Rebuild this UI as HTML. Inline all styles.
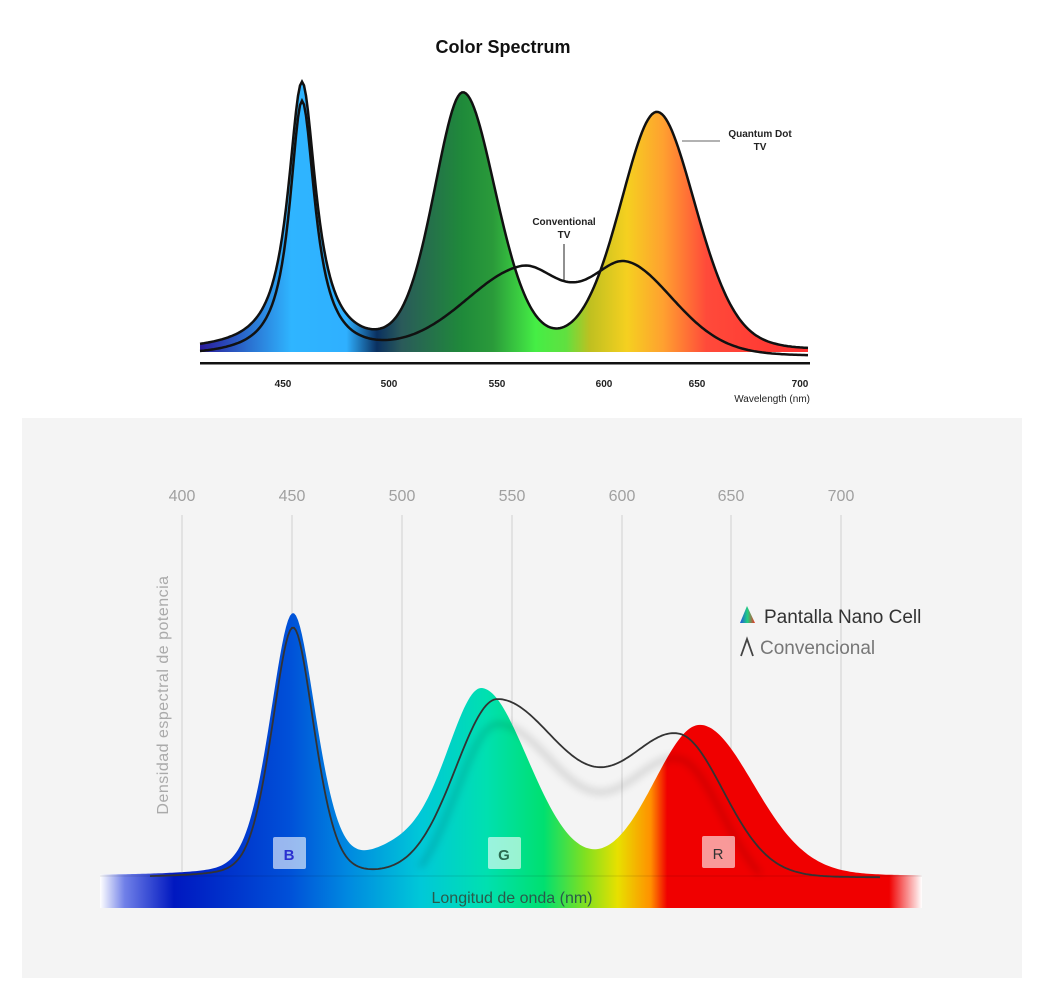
<!DOCTYPE html>
<html><head><meta charset="utf-8"><style>
html,body{margin:0;padding:0;background:#fff;width:1048px;height:1000px;overflow:hidden}
svg{display:block}
</style></head><body>
<svg id="s" width="1048" height="1000" viewBox="0 0 1048 1000" xmlns="http://www.w3.org/2000/svg" font-family="Liberation Sans, sans-serif">
<defs>
<linearGradient id="gt" x1="200" x2="810" y1="0" y2="0" gradientUnits="userSpaceOnUse">
<stop offset="0" stop-color="#2a1a9a"/>
<stop offset="0.08" stop-color="#2a70d0"/>
<stop offset="0.15" stop-color="#2fb5ff"/>
<stop offset="0.24" stop-color="#2fb0ff"/>
<stop offset="0.29" stop-color="#0a3060"/>
<stop offset="0.33" stop-color="#2a5a5a"/>
<stop offset="0.43" stop-color="#1f8a3a"/>
<stop offset="0.48" stop-color="#2a9a3a"/>
<stop offset="0.55" stop-color="#45ee45"/>
<stop offset="0.6" stop-color="#60e040"/>
<stop offset="0.64" stop-color="#c0c020"/>
<stop offset="0.7" stop-color="#f5d020"/>
<stop offset="0.76" stop-color="#ffa030"/>
<stop offset="0.83" stop-color="#ff4a3a"/>
<stop offset="1" stop-color="#ff3030"/>
</linearGradient>
<linearGradient id="gb" x1="100" x2="922" y1="0" y2="0" gradientUnits="userSpaceOnUse">
<stop offset="0" stop-color="#ffffff"/>
<stop offset="0.03" stop-color="#7080e8"/>
<stop offset="0.09" stop-color="#0018c0"/>
<stop offset="0.23" stop-color="#0050d8"/>
<stop offset="0.3" stop-color="#0088e0"/>
<stop offset="0.39" stop-color="#00c8d8"/>
<stop offset="0.47" stop-color="#00e0b0"/>
<stop offset="0.54" stop-color="#00e070"/>
<stop offset="0.59" stop-color="#80e020"/>
<stop offset="0.63" stop-color="#e8e000"/>
<stop offset="0.67" stop-color="#ff9000"/>
<stop offset="0.69" stop-color="#f00000"/>
<stop offset="0.96" stop-color="#f00000"/>
<stop offset="1" stop-color="#ffffff"/>
</linearGradient>
<linearGradient id="leg" x1="0" x2="1" y1="0" y2="0">
<stop offset="0" stop-color="#2050e0"/><stop offset="0.5" stop-color="#20d080"/><stop offset="1" stop-color="#f03020"/>
</linearGradient>
<filter id="sh" x="-10%" y="-10%" width="120%" height="140%"><feGaussianBlur stdDeviation="4"/></filter>
</defs>
<text x="503" y="53" text-anchor="middle" font-size="18" font-weight="bold" fill="#111">Color Spectrum</text>
<path id="qdfill" fill="url(#gt)"/>
<path id="qd" fill="none" stroke="#111" stroke-width="2.5"/>
<path id="cv" fill="none" stroke="#111" stroke-width="2.5"/>
<rect x="200" y="362" width="610" height="2.5" fill="#111"/>
<g font-size="10" font-weight="bold" fill="#222" text-anchor="middle">
<text x="283" y="387">450</text><text x="389" y="387">500</text><text x="497" y="387">550</text><text x="604" y="387">600</text><text x="697" y="387">650</text><text x="800" y="387">700</text>
</g>
<text x="810" y="402" text-anchor="end" font-size="10" fill="#222">Wavelength (nm)</text>
<text x="760" y="137" text-anchor="middle" font-size="10" font-weight="bold" fill="#222">Quantum Dot</text>
<text x="760" y="150" text-anchor="middle" font-size="10" font-weight="bold" fill="#222">TV</text>
<line x1="682" y1="141" x2="720" y2="141" stroke="#666" stroke-width="1"/>
<text x="564" y="225" text-anchor="middle" font-size="10" font-weight="bold" fill="#222">Conventional</text>
<text x="564" y="238" text-anchor="middle" font-size="10" font-weight="bold" fill="#222">TV</text>
<line x1="564" y1="244" x2="564" y2="280" stroke="#222" stroke-width="1"/>

<rect x="22" y="418" width="1000" height="560" fill="#f4f4f4"/>
<g stroke="#cfcfcf" stroke-width="1">
<line x1="182" y1="515" x2="182" y2="905"/><line x1="292" y1="515" x2="292" y2="905"/><line x1="402" y1="515" x2="402" y2="905"/><line x1="512" y1="515" x2="512" y2="905"/><line x1="622" y1="515" x2="622" y2="905"/><line x1="731" y1="515" x2="731" y2="905"/><line x1="841" y1="515" x2="841" y2="905"/>
</g>
<g font-size="16" fill="#a0a0a0" text-anchor="middle">
<text x="182" y="501">400</text><text x="292" y="501">450</text><text x="402" y="501">500</text><text x="512" y="501">550</text><text x="622" y="501">600</text><text x="731" y="501">650</text><text x="841" y="501">700</text>
</g>
<text transform="translate(168,695) rotate(-90)" text-anchor="middle" font-size="16" fill="#aaa" letter-spacing="0.5">Densidad espectral de potencia</text>
<path id="ncfill" fill="url(#gb)"/>
<rect x="100" y="875" width="822" height="33" fill="url(#gb)"/>
<line x1="100" y1="876" x2="922" y2="876" stroke="#000" stroke-opacity="0.12"/>
<path id="cvbs" fill="none" stroke="#000" stroke-opacity="0.2" stroke-width="4" filter="url(#sh)" transform="translate(0,25)"/>
<path id="cvb" fill="none" stroke="#333" stroke-width="1.8"/>
<rect x="273" y="837" width="33" height="32" rx="2" fill="#fff" fill-opacity="0.6"/>
<text x="289" y="860" text-anchor="middle" font-size="15" fill="#2a30d0" font-weight="bold">B</text>
<rect x="488" y="837" width="33" height="32" rx="2" fill="#fff" fill-opacity="0.6"/>
<text x="504" y="860" text-anchor="middle" font-size="15" fill="#2a6a50" font-weight="bold">G</text>
<rect x="702" y="836" width="33" height="32" rx="2" fill="#fff" fill-opacity="0.6"/>
<text x="718" y="859" text-anchor="middle" font-size="15" fill="#333">R</text>
<text x="512" y="903" text-anchor="middle" font-size="16" fill="#2a5a4a">Longitud de onda (nm)</text>
<polygon points="740,623 747,606 755,623" fill="url(#leg)"/>
<text x="764" y="623" font-size="19" fill="#333">Pantalla Nano Cell</text>
<polyline points="741,656 747,639 753,656" fill="none" stroke="#444" stroke-width="1.8"/>
<text x="760" y="654" font-size="19" fill="#777">Convencional</text>
</svg>
<script>
function f(x,peaks){var s=0;for(var i=0;i<peaks.length;i++){var p=peaks[i];var d=x-p[0];var w=d<0?p[2]:p[3];var r=d/w;var G=Math.exp(-r*r/2),L=1/(1+r*r);s+=p[1]*(p[4]*L+(1-p[4])*G);}return s;}
function path(x0,x1,base,peaks,close){var d='';for(var x=x0;x<=x1;x+=2){var y=base-f(x,peaks);d+=(x==x0?'M':'L')+x+','+y.toFixed(1);}if(close)d+='L'+x1+','+close+'L'+x0+','+close+'Z';return d;}
var qd=[[302,268,17,17,1],[463,255,30,34,0.2],[657,238,38,40,0.2]];
var cv=[[302,255,15,16,1],[522,85,60,40,0.15],[626,91,40,50,0.2]];
document.getElementById('qd').setAttribute('d',path(200,808,352,qd));
document.getElementById('qdfill').setAttribute('d',path(200,808,352,qd,352));
document.getElementById('cv').setAttribute('d',path(200,808,357,cv));
var nc=[[293,262,24,24,0.3],[482,185,36,48,0.1],[700,150,47,54,0.05],[400,22,35,35,0]];
var cb=[[293,250,22,22,0.3],[497,177,42,72,0.05],[680,136,55,45,0.05]];
document.getElementById('ncfill').setAttribute('d',path(100,920,876,nc,876));
document.getElementById('cvb').setAttribute('d',path(150,880,878,cb));
document.getElementById('cvbs').setAttribute('d',path(420,760,878,cb));
</script>
</body></html>
